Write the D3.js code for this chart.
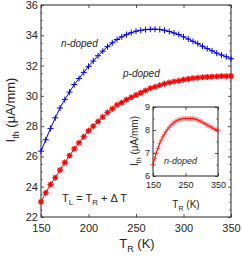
<!DOCTYPE html>
<html>
<head>
<meta charset="utf-8">
<script src="https://cdn.jsdelivr.net/npm/d3@7"></script>
<style>
  body { margin: 0; background: #fff; }
  svg { display: block; font-family: "Liberation Sans", Arial, sans-serif; }
</style>
</head>
<body>
<div id="chart"></div>
<script>
// temperatures (K), 5 K step
const tempR = d3.range(150, 351, 5);

// main plot: n-doped (blue +) and p-doped (red *)
const nDoped = [
  26.35, 27.1, 27.85, 28.55, 29.2, 29.75, 30.25, 30.75, 31.15, 31.55,
  31.95, 32.3, 32.65, 32.95, 33.25, 33.5, 33.72, 33.9, 34.05, 34.17,
  34.27, 34.33, 34.37, 34.4, 34.4, 34.38, 34.33, 34.25, 34.15, 34.05,
  33.9, 33.75, 33.6, 33.45, 33.28, 33.12, 32.97, 32.82, 32.7, 32.58, 32.45,
];
const pDoped = [
  23.0, 23.6, 24.15, 24.6, 25.1, 25.6, 26.05, 26.5, 26.9, 27.3,
  27.7, 28.0, 28.3, 28.6, 28.9, 29.15, 29.4, 29.55, 29.75, 29.9,
  30.05, 30.2, 30.35, 30.5, 30.6, 30.7, 30.8, 30.88, 30.95, 31.0,
  31.07, 31.12, 31.17, 31.2, 31.23, 31.25, 31.27, 31.28, 31.3, 31.3, 31.3,
];
// inset: n-doped with T_L = T_R + dT
const insetN = [
  6.5, 6.75, 7.0, 7.2, 7.4, 7.55, 7.7, 7.82, 7.93, 8.03,
  8.12, 8.2, 8.27, 8.33, 8.38, 8.42, 8.45, 8.47, 8.49, 8.5,
  8.5, 8.5, 8.5, 8.5, 8.5, 8.49, 8.47, 8.45, 8.42, 8.39,
  8.35, 8.31, 8.27, 8.23, 8.19, 8.15, 8.11, 8.07, 8.04, 8.01, 7.98,
];

const xTicks = [150, 200, 250, 300, 350];
const yTicks = [22, 24, 26, 28, 30, 32, 34, 36];
const insetXTicks = [150, 250, 350];
const insetYTicks = [6, 7, 8, 9];

const W = 242, H = 257;
const textColor = "#262626";

const svg = d3.select("#chart").append("svg")
  .attr("width", W).attr("height", H);
svg.append("rect").attr("width", W).attr("height", H).attr("fill", "#fff");

const x = d3.scaleLinear().domain([150, 350]).range([41, 231]);
const y = d3.scaleLinear().domain([22, 36]).range([217, 5]);

// draw a boxed set of axes with inward ticks (matlab style)
function boxAxes(g, xs, ys, xt, yt, yMinor, fontSize, xPad) {
  const [x0, x1] = xs.range();
  const [y0, y1] = ys.range();
  const styleAxis = (sel) => {
    sel.select(".domain").remove();
    sel.selectAll("line").attr("stroke", textColor).attr("stroke-width", 0.8);
    sel.selectAll("text").attr("fill", textColor).style("font-size", fontSize + "px")
      .attr("font-family", null);
  };
  g.append("g").attr("transform", `translate(0,${y0})`)
    .call(d3.axisBottom(xs).tickValues(xt).tickSize(-3).tickPadding(xPad).tickFormat(d3.format("d")))
    .call(styleAxis);
  g.append("g").attr("transform", `translate(0,${y1})`)
    .call(d3.axisTop(xs).tickValues(xt).tickSize(-3).tickFormat(""))
    .call(styleAxis);
  g.append("g").attr("transform", `translate(${x0},0)`)
    .call(d3.axisLeft(ys).tickValues(yt).tickSize(-3).tickPadding(3).tickFormat(d3.format("d")))
    .call(styleAxis);
  g.append("g").attr("transform", `translate(${x1},0)`)
    .call(d3.axisRight(ys).tickValues(yt).tickSize(-3).tickFormat(""))
    .call(styleAxis);
  if (yMinor) {
    g.append("g").attr("transform", `translate(${x0},0)`)
      .call(d3.axisLeft(ys).tickValues(yMinor).tickSize(-1.5).tickFormat(""))
      .call(styleAxis);
    g.append("g").attr("transform", `translate(${x1},0)`)
      .call(d3.axisRight(ys).tickValues(yMinor).tickSize(-1.5).tickFormat(""))
      .call(styleAxis);
  }
  g.append("rect")
    .attr("x", x0).attr("y", y1)
    .attr("width", x1 - x0).attr("height", y0 - y1)
    .attr("fill", "none").attr("stroke", textColor).attr("stroke-width", 1);
}

function drawSeries(g, xs, ys, values, color, marker, size, opacity, sw) {
  const pts = tempR.map((t, i) => [xs(t), ys(values[i])]);
  g.append("path")
    .attr("d", d3.line()(pts))
    .attr("fill", "none").attr("stroke", color).attr("stroke-width", 1);
  const h = size / 2;
  const m = g.append("g").attr("stroke", color).attr("stroke-width", sw)
    .attr("opacity", opacity);
  pts.forEach(([px, py]) => {
    m.append("line").attr("x1", px - h).attr("x2", px + h).attr("y1", py).attr("y2", py);
    m.append("line").attr("x1", px).attr("x2", px).attr("y1", py - h).attr("y2", py + h);
    if (marker === "*") {
      const d = h * 0.7;
      m.append("line").attr("x1", px - d).attr("x2", px + d).attr("y1", py - d).attr("y2", py + d);
      m.append("line").attr("x1", px - d).attr("x2", px + d).attr("y1", py + d).attr("y2", py - d);
    }
  });
}

// main axes
const main = svg.append("g");
boxAxes(main, x, y, xTicks, yTicks, d3.range(22.5, 36, 0.5).filter((v) => v % 2 !== 0), 11, 7);
drawSeries(main, x, y, nDoped, "#0000ff", "+", 6, 1, 1);
drawSeries(main, x, y, pDoped, "#ff0000", "*", 6, 1, 1.3);

main.append("text").attr("x", 61).attr("y", 47)
  .attr("font-style", "italic").style("font-size", "10px").attr("fill", textColor)
  .text("n-doped");
main.append("text").attr("x", 123).attr("y", 77)
  .attr("font-style", "italic").style("font-size", "10px").attr("fill", textColor)
  .text("p-doped");

const eq = main.append("text").attr("x", 62).attr("y", 202)
  .style("font-size", "11px").attr("fill", textColor);
eq.append("tspan").text("T");
eq.append("tspan").attr("dy", 3).style("font-size", "8px").text("L");
eq.append("tspan").attr("dy", -3).text(" = T");
eq.append("tspan").attr("dy", 3).style("font-size", "8px").text("R");
eq.append("tspan").attr("dy", -3).text(" + \u0394 T");

// main axis labels
const xl = svg.append("text").attr("x", 137).attr("y", 248)
  .attr("text-anchor", "middle").style("font-size", "13px").attr("fill", textColor);
xl.append("tspan").text("T");
xl.append("tspan").attr("dy", 4).style("font-size", "9px").text("R");
xl.append("tspan").attr("dy", -4).text(" (K)");

const yl = svg.append("text")
  .attr("transform", "translate(15,110) rotate(-90)")
  .attr("text-anchor", "middle").style("font-size", "13px").attr("fill", textColor);
yl.append("tspan").text("I");
yl.append("tspan").attr("dy", 4).style("font-size", "9px").text("th");
yl.append("tspan").attr("dy", -4).text(" (\u03BCA/mm)");

// inset
const xi = d3.scaleLinear().domain([150, 350]).range([153, 218]);
const yi = d3.scaleLinear().domain([6, 9]).range([176, 107]);
const inset = svg.append("g");
inset.append("rect").attr("x", 153).attr("y", 107).attr("width", 65).attr("height", 69)
  .attr("fill", "#fff");
boxAxes(inset, xi, yi, insetXTicks, insetYTicks, [6.5, 7.5, 8.5], 9, 6);
drawSeries(inset, xi, yi, insetN, "#ff0000", "+", 5, 0.55, 1);

inset.append("text").attr("x", 164).attr("y", 164)
  .attr("font-style", "italic").style("font-size", "9px").attr("fill", textColor)
  .text("n-doped");

const xil = inset.append("text").attr("x", 186).attr("y", 208)
  .attr("text-anchor", "middle").style("font-size", "10px").attr("fill", textColor);
xil.append("tspan").text("T");
xil.append("tspan").attr("dy", 3).style("font-size", "7px").text("R");
xil.append("tspan").attr("dy", -3).text(" (K)");

const yil = inset.append("text")
  .attr("transform", "translate(138,141) rotate(-90)")
  .attr("text-anchor", "middle").style("font-size", "10px").attr("fill", textColor);
yil.append("tspan").text("I");
yil.append("tspan").attr("dy", 3).style("font-size", "7px").text("th");
yil.append("tspan").attr("dy", -3).text(" (\u03BCA/mm)");
</script>
</body>
</html>
